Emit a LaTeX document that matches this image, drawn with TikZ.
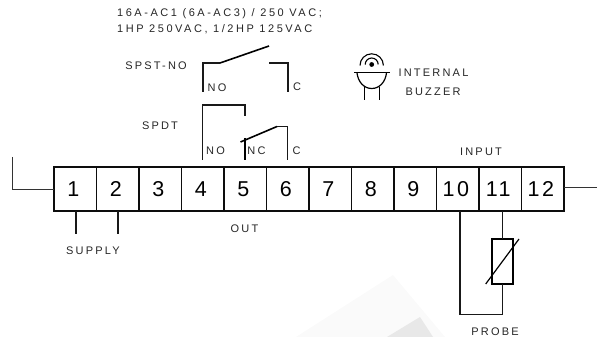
\documentclass[tikz,border=0pt]{standalone}
\usepackage{fontspec}
\setmainfont{Liberation Sans}
\newfontfamily\spaced[LetterSpace=20]{Liberation Sans}
\newfontfamily\ratef[LetterSpace=23]{Liberation Sans}
\newfontfamily\numf[LetterSpace=12]{Liberation Sans}
\tikzset{
  lbl/.style={inner sep=0pt,font=\spaced\fontsize{11}{16.5}\selectfont,text=black!85},
  cell/.style={draw=black!95,line width=1.4pt,minimum width=42.5pt,minimum height=44pt,inner sep=0pt,outer sep=0pt,font=\numf\fontsize{21.5}{24}\selectfont,anchor=west},
  wire/.style={draw=black!90,line width=1.2pt},
  thin wire/.style={draw=black!80,line width=.8pt},
  blade/.style={draw=black,line width=1.6pt}
}
\begin{document}
\begin{tikzpicture}[x=1pt,y=-1pt]
\useasboundingbox (0,0) rectangle (598,337);
% watermark
\fill[black!2] (296,337) -- (393,275) -- (445,337) -- cycle;
\fill[black!9] (387,337) -- (420,317) -- (433,337) -- cycle;
% terminal block
\foreach \n [count=\i from 0] in {1,...,12}{
  \node[cell] (t\n) at ({54+42.5*\i},189) {\kern-4pt\n};
}
% side leads
\coordinate (la) at (12,157);
\coordinate (lb) at (12,189);
\draw[thin wire] (la) -- (lb) -- (t1.west |- lb);
\coordinate (ra) at (597,187.3);
\draw[thin wire] (t12.east |- ra) -- (ra);
% supply
\coordinate (s1) at (76,234);
\coordinate (s2) at (118,234);
\draw[wire] (t1.south -| s1) -- (s1);
\draw[wire] (t2.south -| s2) -- (s2);
\node[lbl] (supply) at (93,250.5) {SUPPLY};
\node[lbl] (out) at (244.5,229) {OUT};
\node[lbl] (input) at (481,152) {INPUT};
\node[lbl] (probe) at (495,332) {PROBE};
% top texts
\node[lbl,font=\ratef\fontsize{11}{16.5}\selectfont,align=left,anchor=north west] (rating) at (117,8) {16A-AC1 (6A-AC3) / 250 VAC;\\1HP 250VAC, 1/2HP 125VAC};
\node[lbl] (spst) at (156,66) {SPST-NO};
\node[lbl] (spdt) at (160,126) {SPDT};
\node[lbl] (no1) at (217,88) {NO};
\node[lbl] (c1) at (297,87) {C};
\node[lbl] (no2) at (215.5,151) {NO};
\node[lbl] (nc) at (256.5,151) {NC};
\node[lbl] (c2) at (296.5,151) {C};
\node[lbl] (intl) at (433.5,73) {INTERNAL};
\node[lbl] (buzz) at (433,92) {BUZZER};
% SPST-NO
\coordinate (a1) at (203,92);
\coordinate (a2) at (203,63);
\coordinate (a3) at (220,63);
\coordinate (a4) at (269,46);
\coordinate (a5) at (269,63);
\coordinate (a6) at (288,63);
\coordinate (a7) at (288,92);
\draw[wire] (a1) -- (a2) -- (a3);
\draw[blade] (a3) -- (a4);
\draw[wire] (a5) -- (a6) -- (a7);
% SPDT
\coordinate (b1) at (202.5,160);
\coordinate (b2) at (202.5,105);
\coordinate (b3) at (245,105);
\coordinate (b4) at (245,116);
\coordinate (b5) at (245,138);
\coordinate (b6) at (245,160);
\coordinate (b7) at (240.5,142);
\coordinate (b8) at (277,126.5);
\coordinate (b9) at (287.5,126.5);
\coordinate (b10) at (287.5,160);
\draw[wire] (b1) -- (b2) -- (b3) -- (b4);
\draw[blade] (b5) -- (b6);
\draw[blade] (b7) -- (b8);
\draw[wire] (b8) -- (b9) -- (b10);
% buzzer
\coordinate (bz) at (371.7,64.5);
\fill[black] (bz) circle (2.4);
\draw[line width=1.1pt] (365.2,64.5) arc[start angle=180,end angle=360,radius=6.5];
\draw[line width=1.1pt] (360,65.5) arc[start angle=180,end angle=360,radius=11.7];
\draw[line width=1.3pt] (354,72.8) -- (389.5,72.8);
\draw[line width=1.2pt] (357,72.8) .. controls (358,82) and (364,88.5) .. (371.7,88.5) .. controls (379.5,88.5) and (385.5,82) .. (386.5,72.8);
\draw[line width=1.1pt] (364.3,87) -- (364.3,100);
\draw[line width=1.1pt] (379.2,87) -- (379.2,100);
% probe
\coordinate (p1) at (460,314.5);
\coordinate (p2) at (502.5,314.5);
\node[draw=black,line width=1.3pt,minimum width=21pt,minimum height=45pt,inner sep=0pt,outer sep=0pt] (res) at (502.5,261.5) {};
\draw[wire] (t10.south -| p1) -- (p1) -- (p2) -- (res.south);
\draw[wire] (t11.south -| res) -- (res.north);
\coordinate (d1) at (485.7,284);
\coordinate (d2) at (519,239);
\draw[line width=1.2pt] (d1) -- (d2);
\end{tikzpicture}
\end{document}
